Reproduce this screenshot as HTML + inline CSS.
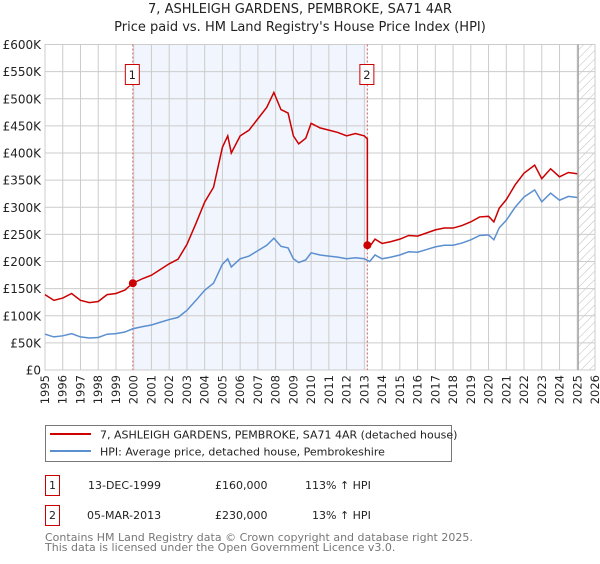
<!DOCTYPE html>
<html><head><meta charset="utf-8"><style>
body{margin:0;background:#fff;width:600px;height:560px;overflow:hidden;font-family:"DejaVu Sans","Liberation Sans",sans-serif}
svg text{font-family:"DejaVu Sans","Liberation Sans",sans-serif}
</style></head><body>
<svg id="chart" width="600" height="560" xmlns="http://www.w3.org/2000/svg">
<defs><pattern id="hatch" width="6" height="6" patternUnits="userSpaceOnUse" patternTransform="rotate(45)"><line x1="0" y1="0" x2="0" y2="6" stroke="#bbb" stroke-width="1"/></pattern></defs>
<text x="300" y="13" text-anchor="middle" font-size="13" fill="#222">7, ASHLEIGH GARDENS, PEMBROKE, SA71 4AR</text>
<text x="300" y="31" text-anchor="middle" font-size="13" fill="#222">Price paid vs. HM Land Registry's House Price Index (HPI)</text>
<g id="plot"></g>
<g>
<rect x="45.5" y="425.5" width="406" height="36" fill="#fff" stroke="#777"/>
<line x1="50" y1="434" x2="91" y2="434" stroke="#cc0000" stroke-width="2"/>
<text x="100" y="438.5" font-size="11" fill="#222">7, ASHLEIGH GARDENS, PEMBROKE, SA71 4AR (detached house)</text>
<line x1="50" y1="451" x2="91" y2="451" stroke="#5b8fd0" stroke-width="2"/>
<text x="100" y="455.5" font-size="11" fill="#222">HPI: Average price, detached house, Pembrokeshire</text>
</g>
<g font-size="11" fill="#222">
<rect x="45.5" y="475.5" width="14" height="20" fill="#fff" stroke="#cc0000"/>
<text x="52.5" y="489" text-anchor="middle">1</text>
<text x="88" y="489">13-DEC-1999</text><text x="215" y="489">£160,000</text><text x="305" y="489">113% ↑ HPI</text>
<rect x="45.5" y="505.5" width="14" height="20" fill="#fff" stroke="#cc0000"/>
<text x="52.5" y="519" text-anchor="middle">2</text>
<text x="87" y="519">05-MAR-2013</text><text x="215" y="519">£230,000</text><text x="312" y="519">13% ↑ HPI</text>
</g>
<text x="45" y="541" font-size="11" fill="#777">Contains HM Land Registry data © Crown copyright and database right 2025.</text>
<text x="45" y="551" font-size="11" fill="#777">This data is licensed under the Open Government Licence v3.0.</text>
</svg>
<script>
const years=[1995,1996,1997,1998,1999,2000,2001,2002,2003,2004,2005,2006,2007,2008,2009,2010,2011,2012,2013,2014,2015,2016,2017,2018,2019,2020,2021,2022,2023,2024,2025,2026];
const yTicks=[0,50000,100000,150000,200000,250000,300000,350000,400000,450000,500000,550000,600000];
const yTickLabels=["£0","£50K","£100K","£150K","£200K","£250K","£300K","£350K","£400K","£450K","£500K","£550K","£600K"];
const hpiT=[1995,1995.5,1996,1996.5,1997,1997.5,1998,1998.5,1999,1999.5,1999.95,2000.5,2001,2001.5,2002,2002.5,2003,2003.5,2004,2004.5,2005,2005.3,2005.5,2006,2006.5,2007,2007.5,2007.9,2008.3,2008.7,2009,2009.3,2009.7,2010,2010.5,2011,2011.5,2012,2012.5,2013,2013.3,2013.6,2014,2014.5,2015,2015.5,2016,2016.5,2017,2017.5,2018,2018.5,2019,2019.5,2020,2020.3,2020.6,2021,2021.5,2022,2022.6,2023,2023.5,2024,2024.5,2025];
const hpiV=[66000,61000,63000,67000,61000,59000,60000,66000,67000,70000,76000,80000,83000,88000,93000,97000,110000,128000,147000,160000,195000,205000,190000,205000,210000,220000,230000,243000,228000,225000,205000,198000,203000,216000,212000,210000,208000,205000,207000,205000,200000,212000,205000,208000,212000,218000,217000,222000,227000,230000,230000,234000,240000,248000,249000,240000,262000,276000,300000,319000,332000,310000,326000,313000,320000,318000];
const saleT=[1999.95,2013.17];
const saleV=[160000,230000];
const x0=45,x1=595,yb=370,yt=44.5;
const X=t=>x0+(t-1995)/(2026-1995)*(x1-x0);
const Y=v=>yb-v/600000*(yb-yt);
const NS="http://www.w3.org/2000/svg";
const g=document.getElementById('plot');
function mk(tag,attrs,parent){const e=document.createElementNS(NS,tag);for(const k in attrs)e.setAttribute(k,attrs[k]);(parent||g).appendChild(e);return e;}
const sh=mk('rect',{x:X(saleT[0]),y:yt,width:X(saleT[1])-X(saleT[0]),height:yb-yt,fill:'#eef3fc',opacity:0.8});


const ht=mk('rect',{x:X(2025.05),y:yt,width:x1-X(2025.05),height:yb-yt,fill:'url(#hatch)'});


years.forEach(yr=>{
 const l=mk('line',{x1:X(yr),x2:X(yr),y1:yt,y2:yb,stroke:'#ccc','stroke-width':1});
 
 
 const t=mk('text',{x:X(yr)+4,y:yb+5,'font-size':11.5,fill:'#222','text-anchor':'end',transform:`rotate(-90 ${X(yr)+4} ${yb+5})`});
 t.textContent=yr;
 
 
});
yTicks.forEach((v,i)=>{
 const l=mk('line',{x1:x0,x2:x1,y1:Y(v),y2:Y(v),stroke:'#ccc','stroke-width':1});
 
 
 const t=mk('text',{x:x0-4,y:Y(v)+4.5,'font-size':12,fill:'#222','text-anchor':'end'});
 t.textContent=yTickLabels[i];
 
 
});
const bd=mk('rect',{x:x0,y:yt,width:x1-x0,height:yb-yt,fill:'none',stroke:'#ccc'});


const en=mk('line',{x1:X(2025.05),x2:X(2025.05),y1:yt,y2:yb,stroke:'#999','stroke-width':1.2});


function hpiAt(t){for(let i=1;i<hpiT.length;i++){if(t<=hpiT[i]){const f=(t-hpiT[i-1])/(hpiT[i]-hpiT[i-1]);return hpiV[i-1]+f*(hpiV[i]-hpiV[i-1]);}}return hpiV[hpiV.length-1];}
let pts=[];
hpiT.forEach((t,i)=>{
 let k=t<saleT[1]?0:1;
 if(t>=saleT[1]&&pts.length&&!pts.done){const pre=saleV[0]*hpiAt(saleT[1])/hpiAt(saleT[0]);pts.push([X(saleT[1]),Y(pre)],[X(saleT[1]),Y(saleV[1])]);pts.done=1;}
 const v=saleV[k]*hpiV[i]/hpiAt(saleT[k]);
 pts.push([X(t),Y(v)]);
});
saleT.forEach((s,k)=>{
 const l=mk('line',{x1:X(s),x2:X(s),y1:yt,y2:yb,stroke:'#e06060','stroke-dasharray':'2,2','stroke-width':1});
 
 
 const b=mk('rect',{x:X(s)-7.5,y:64.5,width:14,height:20,fill:'#fff',stroke:'#cc0000'});
 
 
 const t=mk('text',{x:X(s)-0.5,y:79,'font-size':11.5,'text-anchor':'middle',fill:'#222'});
 t.textContent=String(k+1);
});
const hp=mk('polyline',{points:hpiT.map((t,i)=>X(t)+','+Y(hpiV[i])).join(' '),fill:'none',stroke:'#5b8fd0','stroke-width':1.5});


const pl=mk('polyline',{points:pts.map(p=>p.join(',')).join(' '),fill:'none',stroke:'#cc0000','stroke-width':1.5});


saleT.forEach((s,k)=>{
 const c=mk('circle',{cx:X(s),cy:Y(saleV[k]),r:4,fill:'#cc0000'});
 
 
});
</script>
</body></html>
